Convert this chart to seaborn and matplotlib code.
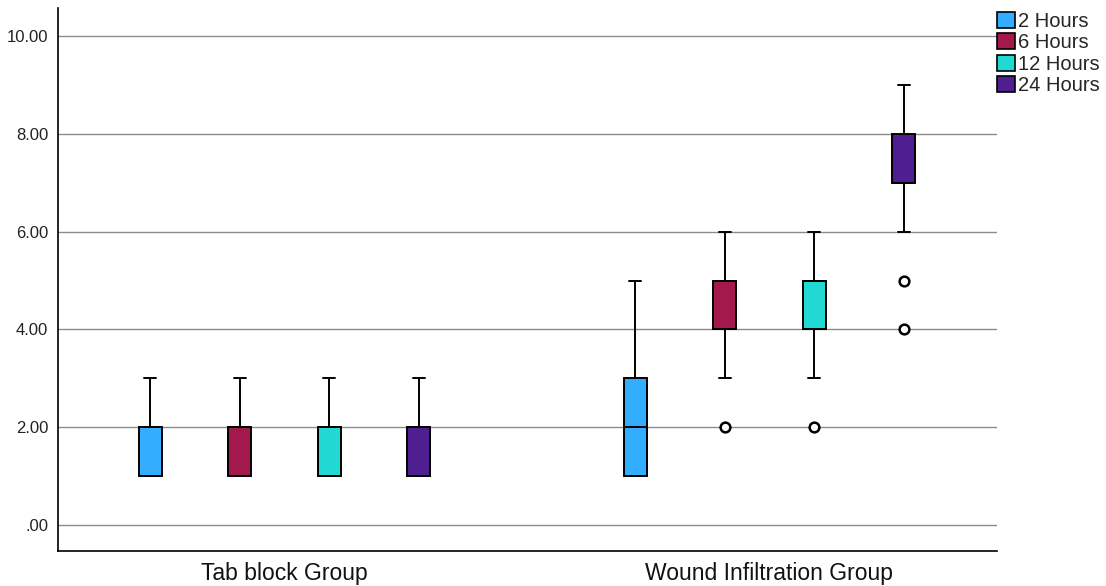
import numpy as np
import pandas as pd
import matplotlib
matplotlib.use("Agg")
import matplotlib.pyplot as plt
import seaborn as sns
from matplotlib.ticker import FuncFormatter
from matplotlib.patches import Patch

groups = ["Tab block Group", "Wound Infiltration Group"]
hours = ["2 Hours", "6 Hours", "12 Hours", "24 Hours"]
colors = ["#33adfe", "#a3194b", "#22d8d2", "#4f1f91"]

# raw scores per group / time point (read from the box stats)
tab_2h = [1, 1, 1, 1, 1, 2, 2, 2, 3]
tab_6h = [1, 1, 1, 2, 2, 2, 2, 2, 3]
tab_12h = [1, 1, 1, 1, 1, 2, 2, 2, 3]
tab_24h = [1, 1, 1, 2, 2, 2, 2, 2, 3]
wound_2h = [1, 1, 1, 2, 2, 3, 3, 4, 5]
wound_6h = [2, 3, 4, 4, 4, 5, 5, 6, 6]
wound_12h = [2, 3, 4, 5, 5, 5, 5, 6, 6]
wound_24h = [4, 5, 6, 7, 7, 7, 7, 8, 8, 8, 8, 9, 9]

data = {
    ("Tab block Group", "2 Hours"): tab_2h,
    ("Tab block Group", "6 Hours"): tab_6h,
    ("Tab block Group", "12 Hours"): tab_12h,
    ("Tab block Group", "24 Hours"): tab_24h,
    ("Wound Infiltration Group", "2 Hours"): wound_2h,
    ("Wound Infiltration Group", "6 Hours"): wound_6h,
    ("Wound Infiltration Group", "12 Hours"): wound_12h,
    ("Wound Infiltration Group", "24 Hours"): wound_24h,
}
rows = [(g, h, v) for (g, h), vals in data.items() for v in vals]
df = pd.DataFrame(rows, columns=["group", "time", "score"])

sns.set_style("white")
plt.rcParams["font.family"] = ["Liberation Sans", "DejaVu Sans"]

fig = plt.figure(figsize=(11.06, 5.86), dpi=100)
ax = fig.add_axes([0.0524, 0.0597, 0.849, 0.9266])

for y in range(0, 11, 2):
    ax.axhline(y, color="#8c8c8c", linewidth=1.0, zorder=0)

sns.boxplot(
    data=df, x="group", y="score", hue="time",
    order=groups, hue_order=hours, palette=colors,
    width=0.738, gap=0.74, whis=1.5,
    linecolor="black", linewidth=1.4, saturation=1,
    flierprops=dict(marker="o", markersize=7, markerfacecolor="white",
                    markeredgecolor="black", markeredgewidth=1.8),
    legend=False, ax=ax,
)

ax.set_ylim(-0.53, 10.57)
ax.set_xlim(-0.467, 1.469)
ax.set_yticks(range(0, 11, 2))
ax.yaxis.set_major_formatter(FuncFormatter(lambda v, p: f"{v:.2f}".lstrip("0") if v < 1 else f"{v:.2f}"))
ax.tick_params(axis="y", length=0, labelsize=12, pad=7, labelcolor="#222222")
ax.tick_params(axis="x", length=0, labelsize=16.5, pad=8, labelcolor="#111111")
ax.set_xlabel("")
ax.set_ylabel("")
for s in ["top", "right"]:
    ax.spines[s].set_visible(False)
for s in ["left", "bottom"]:
    ax.spines[s].set_color("black")
    ax.spines[s].set_linewidth(1.2)

handles = [Patch(facecolor=c, edgecolor="black", linewidth=1.2) for c in colors]
fig.legend(handles, hours, loc="upper left", bbox_to_anchor=(0.900, 0.983),
           frameon=False, fontsize=14.5, handlelength=0.85, handleheight=0.85,
           handletextpad=0.15, labelspacing=0.12, borderaxespad=0, borderpad=0.1)

fig.savefig("out.png", dpi=100)
